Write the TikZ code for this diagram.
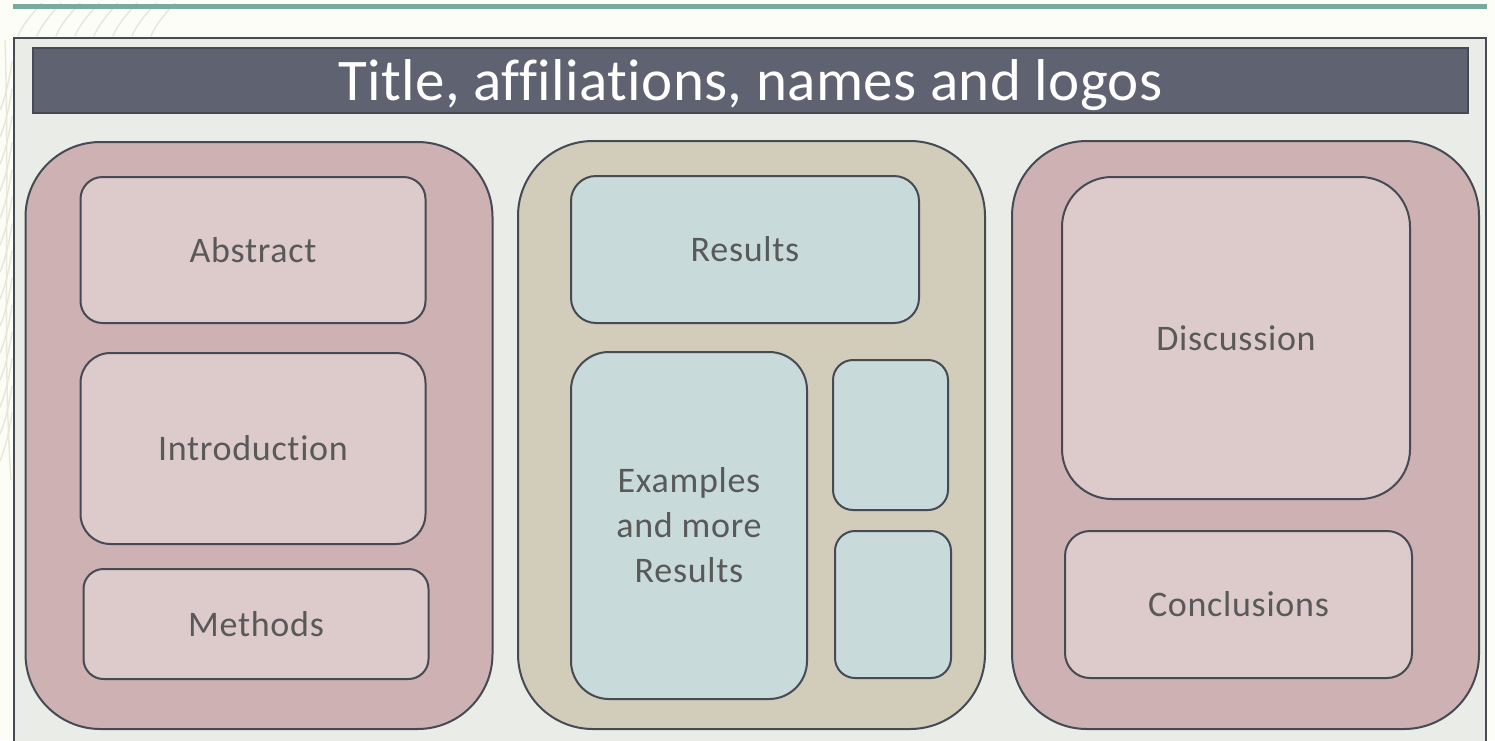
\documentclass[tikz,border=0pt]{standalone}
\usepackage{fontspec}
\setmainfont{Carlito}
\newfontfamily\labelfont[LetterSpace=2,Ligatures=NoCommon]{Carlito}
\newfontfamily\titlefont[LetterSpace=0.6,Ligatures=NoCommon]{Carlito}
\definecolor{bgc}{HTML}{FDFDF8}
\definecolor{panelc}{HTML}{E9ECE7}
\definecolor{edgec}{HTML}{464A54}
\definecolor{titlec}{HTML}{5F6270}
\definecolor{pinkout}{HTML}{CEB1B2}
\definecolor{pinkin}{HTML}{DDCBCB}
\definecolor{tanout}{HTML}{D1CDBA}
\definecolor{bluein}{HTML}{C8DADA}
\definecolor{tealc}{HTML}{7AA9A0}
\definecolor{txtc}{HTML}{595959}
\definecolor{leafc}{HTML}{E8E6DB}
\begin{document}
\begin{tikzpicture}[x=1pt,y=-1pt,
  colbox/.style={draw=edgec, line width=2pt, rounded corners=75pt, inner sep=0pt},
  secbox/.style={draw=edgec, line width=2pt, inner sep=0pt, text=txtc,
    font=\labelfont\fontsize{36}{45}\selectfont, align=center},
  leaf/.style={draw=leafc, line width=1.4pt, line cap=round}]
\useasboundingbox (0,0) rectangle (1495,740);
\clip (0,0) rectangle (1495,740);
\fill[bgc] (0,0) rectangle (1495,740);
% faint leaf strokes
\foreach \i in {0,...,13} {
  \draw[leaf] (0,{110+\i*27}) .. controls (5,{98+\i*27}) and (9,{82+\i*27}) .. (12,{62+\i*27});
}
\foreach \i in {0,...,7} {
  \draw[leaf] ({18+\i*19},36) .. controls ({22+\i*19},26) and ({30+\i*19},16) .. ({42+\i*19},3);
}
\draw[leaf] (5,40) .. controls (10,200) and (2,350) .. (11,480);
% teal rule
\draw[tealc, line width=5pt] (13,6.5) -- (1487,6.5);
% panel
\node[draw=edgec, fill=panelc, line width=2.5pt, inner sep=0pt, minimum width=1472pt, minimum height=760pt] (panel) at (750,418) {};
% title bar
\node[draw=edgec, fill=titlec, line width=2pt, inner sep=0pt, minimum width=1435pt, minimum height=65pt,
  text=white, text depth=0pt, font=\titlefont\fontsize{59}{70}\selectfont] (title) at (750.5,80.5) {Title, affiliations, names and logos};
% columns
\node[colbox, fill=pinkout, minimum width=467pt, minimum height=587pt] (left) at (259,435.5) {};
\node[colbox, fill=tanout, minimum width=467pt, minimum height=588pt] (mid) at (751.5,435) {};
\node[colbox, fill=pinkout, minimum width=467pt, minimum height=588pt] (right) at (1245.5,435) {};
% left column
\node[secbox, fill=pinkin, rounded corners=22pt, minimum width=345pt, minimum height=146pt] (abs) at (253,250) {Abstract};
\node[secbox, fill=pinkin, rounded corners=30pt, minimum width=345pt, minimum height=191pt] (intro) at (253,448.5) {Introduction};
\node[secbox, fill=pinkin, rounded corners=20pt, minimum width=345pt, minimum height=110pt] (meth) at (256,624) {Methods};
% middle column
\node[secbox, fill=bluein, rounded corners=25pt, minimum width=348pt, minimum height=147pt] (res) at (745,249.5) {Results};
\node[secbox, fill=bluein, rounded corners=38pt, minimum width=236pt, minimum height=347pt] (ex) at (689,525.5) {Examples\\and more\\Results};
\node[secbox, fill=bluein, rounded corners=20pt, minimum width=115pt, minimum height=150pt] (sa) at (890.5,435) {};
\node[secbox, fill=bluein, rounded corners=20pt, minimum width=116pt, minimum height=147pt] (sb) at (893,604.5) {};
% right column
\node[secbox, fill=pinkin, rounded corners=50pt, minimum width=348pt, minimum height=322pt] (disc) at (1236,338) {Discussion};
\node[secbox, fill=pinkin, rounded corners=25pt, minimum width=347pt, minimum height=147pt] (conc) at (1238.5,604.5) {Conclusions};
\end{tikzpicture}
\end{document}
